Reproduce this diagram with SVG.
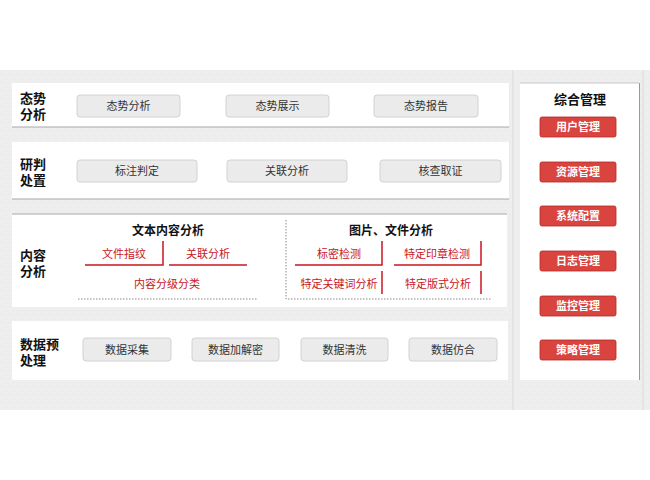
<svg xmlns="http://www.w3.org/2000/svg" width="650" height="480" viewBox="0 0 650 480">
<defs>
<pattern id="tex" width="8" height="8" patternUnits="userSpaceOnUse">
<rect width="8" height="8" fill="#eeeeee"/>
<rect x="1" y="2" width="1" height="1" fill="#e2e2e2"/>
<rect x="5" y="6" width="1" height="1" fill="#e2e2e2"/>
<rect x="3" y="5" width="1" height="1" fill="#f6f6f6"/>
</pattern>
</defs>
<style>
text{font-family:"Noto Sans CJK SC","Noto Sans",sans-serif}
.panel{fill:#ffffff}
.pline{stroke:#a8a8a8;stroke-width:1.2}
.title{font-size:13px;font-weight:bold;fill:#111}
.btn{fill:#ebebeb;stroke:#d2d2d2;stroke-width:1}
.btxt{font-size:11px;fill:#333;text-anchor:middle}
.sub{font-size:12px;font-weight:bold;fill:#111;text-anchor:middle}
.rtxt{font-size:11px;fill:#c8161d;text-anchor:middle}
.rl{stroke:#c8161d;stroke-width:1.5;fill:none}
.dot{stroke:#888;stroke-width:1;stroke-dasharray:1.5 1.5;fill:none}
.rbtn{fill:#d9443f;stroke:#b22a26;stroke-width:0.8}
.rbtxt{font-size:11px;font-weight:bold;fill:#fff;text-anchor:middle}
</style>
<rect x="0" y="0" width="650" height="480" fill="#ffffff"/>
<rect x="0" y="70" width="650" height="340" fill="url(#tex)"/>
<path d="M513 70 V410 M643 70 V410" stroke="#e4e4e4" stroke-width="2"/>

<g id="row1">
<rect class="panel" x="12" y="83" width="497" height="44"/>
<line class="pline" x1="12" y1="127" x2="509" y2="127"/>
<text class="title" x="20" y="103"><tspan x="20" y="103">态势</tspan><tspan x="20" y="119">分析</tspan></text>
<g id="n-taishifenxi"><rect class="btn" x="77" y="95" width="103" height="22" rx="3"/><text class="btxt" x="128.5" y="110">态势分析</text></g>
<g id="n-taishizhanshi"><rect class="btn" x="226" y="95" width="103" height="22" rx="3"/><text class="btxt" x="277.5" y="110">态势展示</text></g>
<g id="n-taishibaogao"><rect class="btn" x="374" y="95" width="104" height="22" rx="3"/><text class="btxt" x="426" y="110">态势报告</text></g>
</g>

<g id="row2">
<rect class="panel" x="12" y="142" width="497" height="57"/>
<line class="pline" x1="12" y1="199" x2="509" y2="199"/>
<text class="title" x="20" y="169"><tspan x="20" y="169">研判</tspan><tspan x="20" y="185">处置</tspan></text>
<g id="n-biaozhu"><rect class="btn" x="77" y="160" width="120" height="22" rx="3"/><text class="btxt" x="137" y="175">标注判定</text></g>
<g id="n-guanlian"><rect class="btn" x="227" y="160" width="120" height="22" rx="3"/><text class="btxt" x="287" y="175">关联分析</text></g>
<g id="n-hecha"><rect class="btn" x="380" y="160" width="121" height="22" rx="3"/><text class="btxt" x="440.5" y="175">核查取证</text></g>
</g>

<g id="row3">
<rect class="panel" x="12" y="214" width="495" height="93"/>
<line class="pline" x1="12" y1="214" x2="507" y2="214"/>
<text class="title" x="20" y="260"><tspan x="20" y="260">内容</tspan><tspan x="20" y="276">分析</tspan></text>
<g id="n-wenben">
<text class="sub" x="168" y="235">文本内容分析</text>
<text class="rtxt" x="124" y="258">文件指纹</text>
<text class="rtxt" x="208" y="258">关联分析</text>
<text class="rtxt" x="167" y="288">内容分级分类</text>
</g>
<g id="n-tupian">
<text class="sub" x="391" y="235">图片、文件分析</text>
<text class="rtxt" x="339" y="258">标密检测</text>
<text class="rtxt" x="437" y="258">特定印章检测</text>
<text class="rtxt" x="339" y="288">特定关键词分析</text>
<text class="rtxt" x="438" y="288">特定版式分析</text>
</g>
</g>

<g id="row4">
<rect class="panel" x="12" y="321" width="496" height="59"/>
<text class="title" x="20" y="349"><tspan x="20" y="349">数据预</tspan><tspan x="20" y="365">处理</tspan></text>
<g id="n-caiji"><rect class="btn" x="83" y="338" width="88" height="23" rx="3"/><text class="btxt" x="127" y="354">数据采集</text></g>
<g id="n-jiajiemi"><rect class="btn" x="192" y="338" width="87" height="23" rx="3"/><text class="btxt" x="235.5" y="354">数据加解密</text></g>
<g id="n-qingxi"><rect class="btn" x="301" y="338" width="87" height="23" rx="3"/><text class="btxt" x="344.5" y="354">数据清洗</text></g>
<g id="n-fanghe"><rect class="btn" x="409" y="338" width="88" height="23" rx="3"/><text class="btxt" x="453" y="354">数据仿合</text></g>
</g>

<g id="connectors">
<path class="rl" d="M85 265 H163 V241"/>
<path class="rl" d="M169 265 H247"/>
<path class="dot" d="M78 299 H258"/>
<path class="dot" d="M286 220 V299 H492"/>
<path class="rl" d="M295 265 H382 V241"/>
<path class="rl" d="M394 265 H481 V241"/>
<path class="rl" d="M382 271 V294"/>
<path class="rl" d="M481 271 V294"/>
</g>

<g id="right">
<rect class="panel" x="520" y="83" width="119" height="297"/>
<line x1="639.5" y1="83" x2="639.5" y2="380" stroke="#9a9a9a" stroke-width="1"/>
<line x1="520" y1="83" x2="639" y2="83" stroke="#c8c8c8" stroke-width="1"/>
<text x="580" y="104" font-size="13" font-weight="bold" fill="#111" text-anchor="middle">综合管理</text>
<g id="n-yonghu"><rect class="rbtn" x="540" y="117" width="76" height="20" rx="2"/><text class="rbtxt" x="578" y="131">用户管理</text></g>
<g id="n-ziyuan"><rect class="rbtn" x="540" y="162" width="76" height="20" rx="2"/><text class="rbtxt" x="578" y="176">资源管理</text></g>
<g id="n-xitong"><rect class="rbtn" x="540" y="206" width="76" height="20" rx="2"/><text class="rbtxt" x="578" y="220">系统配置</text></g>
<g id="n-rizhi"><rect class="rbtn" x="540" y="251" width="76" height="20" rx="2"/><text class="rbtxt" x="578" y="265">日志管理</text></g>
<g id="n-jiankong"><rect class="rbtn" x="540" y="296" width="76" height="20" rx="2"/><text class="rbtxt" x="578" y="310">监控管理</text></g>
<g id="n-celue"><rect class="rbtn" x="540" y="340" width="76" height="20" rx="2"/><text class="rbtxt" x="578" y="354">策略管理</text></g>
</g>
</svg>
